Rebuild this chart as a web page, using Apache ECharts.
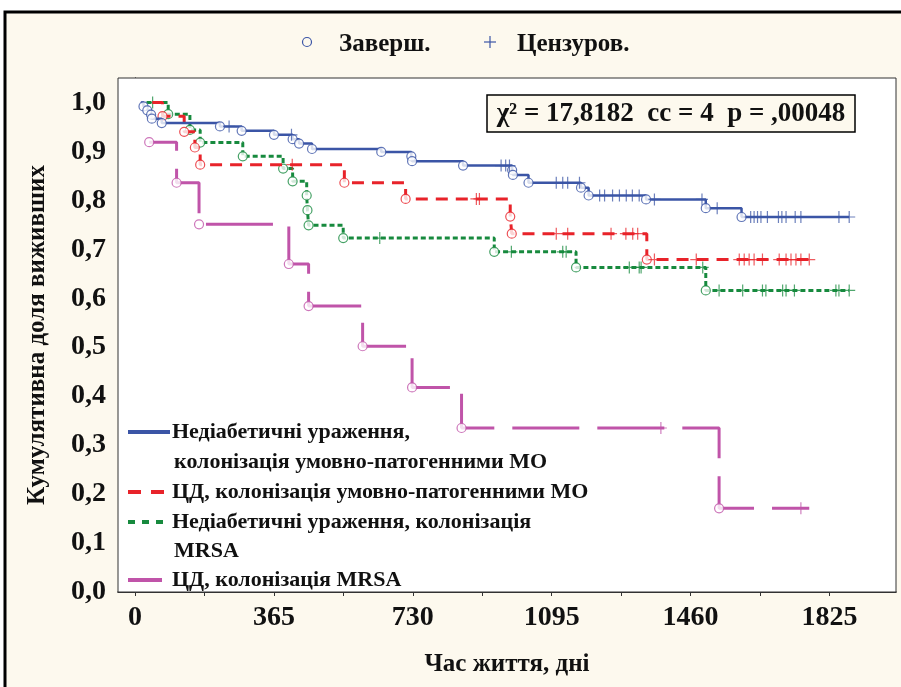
<!DOCTYPE html>
<html><head><meta charset="utf-8">
<script src="https://cdn.jsdelivr.net/npm/echarts@6/dist/echarts.min.js"></script>
<style>html,body{margin:0;padding:0;background:#fff}#c{width:901px;height:687px}</style>
</head><body><div id="c"></div>
<script>
// ---- tick labels ----
const xTicks = [0, 365, 730, 1095, 1460, 1825];
const xMinorTicks = [0, 182.5, 365, 547.5, 730, 912.5, 1095, 1277.5, 1460, 1642.5, 1825];
const yTicks = [0, 0.1, 0.2, 0.3, 0.4, 0.5, 0.6, 0.7, 0.8, 0.9, 1.0];

// ---- series names ----
const nameBlue1 = 'Недіабетичні ураження,';
const nameBlue2 = 'колонізація умовно-патогенними МО';
const nameRed = 'ЦД, колонізація умовно-патогенними МО';
const nameGreen1 = 'Недіабетичні ураження, колонізація';
const nameGreen2 = 'MRSA';
const nameMag = 'ЦД, колонізація MRSA';

// ---- Blue: non-diabetic, opportunistic ----
const blueStart = [15, 1.0];
const blueT = [22, 32, 42, 44, 70, 223, 280, 365, 414, 431, 465, 647, 726, 728, 862, 991, 993, 1034, 1172, 1192, 1343, 1500, 1594];
const blueS = [0.992, 0.984, 0.975, 0.967, 0.958, 0.951, 0.942, 0.934, 0.925, 0.916, 0.905, 0.899, 0.890, 0.880, 0.871, 0.862, 0.852, 0.836, 0.826, 0.810, 0.802, 0.784, 0.766];
const blueC = [247, 411, 962, 974, 984, 1107, 1124, 1137, 1168, 1221, 1234, 1255, 1273, 1291, 1307, 1325, 1365, 1490, 1530, 1618, 1627, 1636, 1645, 1662, 1691, 1700, 1711, 1735, 1750, 1850, 1877];
const blueEnd = 1877;

// ---- Red: diabetic, opportunistic ----
const redStart = [45, 1.0];
const redT = [72, 129, 157, 171, 550, 711, 986, 990, 1345];
const redS = [0.972, 0.940, 0.908, 0.873, 0.836, 0.803, 0.767, 0.732, 0.679];
const redC = [413, 897, 905, 1107, 1137, 1251, 1290, 1308, 1321, 1365, 1475, 1588, 1601, 1614, 1627, 1649, 1693, 1711, 1724, 1737, 1750, 1772];
const redEnd = 1772;

// ---- Green: non-diabetic, MRSA ----
const greenStart = [30, 1.0];
const greenT = [87, 144, 171, 283, 389, 414, 451, 453, 456, 547, 944, 1159, 1500];
const greenS = [0.976, 0.944, 0.918, 0.890, 0.865, 0.839, 0.810, 0.780, 0.749, 0.723, 0.695, 0.663, 0.616];
const greenC = [46, 643, 989, 1124, 1133, 1299, 1325, 1330, 1492, 1535, 1597, 1649, 1658, 1702, 1711, 1733, 1842, 1850, 1877];
const greenEnd = 1877;

// ---- Magenta: diabetic, MRSA ----
const magStart = [37, 0.919];
const magT = [37, 109, 168, 404, 456, 598, 728, 858, 1535];
const magS = [0.919, 0.836, 0.751, 0.670, 0.584, 0.502, 0.418, 0.335, 0.171];
const magC = [1382, 1750];
const magEnd = 1772;

// ---- colours ----
const cBlue = '#3b55a6', cRed = '#e8232a', cGreen = '#178a3e', cMag = '#c054a9';

function kmLine(start, T, S, end) {
  const pts = [start.slice()];
  for (let i = 0; i < T.length; i++) pts.push([T[i], S[i]]);
  pts.push([end, S[S.length - 1]]);
  return pts;
}
function levelAt(start, T, S, t) {
  let v = start[1];
  for (let i = 0; i < T.length; i++) if (T[i] <= t) v = S[i];
  return v;
}
const plusPath = 'path://M6 0L6 12M0 6L12 6';

function groupSeries(name, color, dash, dashOffset, width, start, T, S, C, end, z) {
  return [
    { name: name, type: 'line', step: 'end', data: kmLine(start, T, S, end), showSymbol: false, silent: true, z: z,
      lineStyle: { color: color, width: width, type: dash, dashOffset: dashOffset, cap: 'butt' }, animation: false },
    { type: 'scatter', data: T.map((t, i) => [t, S[i]]), symbol: 'circle', symbolSize: 9, z: z + 1, silent: true,
      itemStyle: { color: '#fff', borderColor: color, borderWidth: 1.2 }, animation: false },
    { type: 'scatter', data: C.map(t => [t, levelAt(start, T, S, t)]), symbol: plusPath, symbolSize: 12, z: z + 1, silent: true,
      itemStyle: { color: 'none', borderColor: color, borderWidth: 1.2, opacity: 0.75 }, animation: false }
  ];
}

const serif = '"Liberation Serif", "Times New Roman", serif';
const chart = echarts.init(document.getElementById('c'));

const legendRows = [
  { y: 432, color: cBlue, dash: null, x2: 170, text: nameBlue1 },
  { y: 462, color: null, text: nameBlue2 },
  { y: 492, color: cRed, dash: [13, 10], x2: 166, text: nameRed },
  { y: 522, color: cGreen, dash: [7, 7], x2: 165, text: nameGreen1 },
  { y: 551, color: null, text: nameGreen2 },
  { y: 580, color: cMag, dash: null, x2: 162, text: nameMag }
];
const legendGraphics = [];
legendRows.forEach(r => {
  if (r.color) legendGraphics.push({ type: 'line', silent: true, z: 50,
    shape: { x1: 128, y1: r.y, x2: r.x2, y2: r.y },
    style: { stroke: r.color, lineWidth: 4, lineDash: r.dash || null } });
  legendGraphics.push({ type: 'text', silent: true, z: 50, x: r.color ? 172 : 174, y: r.y,
    style: { text: r.text, font: 'bold 22px ' + serif, fill: '#111', verticalAlign: 'middle', align: 'left' } });
});

chart.setOption({
  backgroundColor: '#fff',
  animation: false,
  grid: { left: 118, top: 78, right: 5, bottom: 95, show: true, backgroundColor: '#fff', borderColor: '#333', borderWidth: 1, z: 1 },
  xAxis: [
    { type: 'value', min: -45, max: 2000, position: 'bottom',
      name: 'Час життя, дні', nameLocation: 'middle', nameGap: 60,
      nameTextStyle: { fontFamily: serif, fontWeight: 'bold', fontSize: 25, color: '#111' },
      axisLine: { show: true, lineStyle: { color: '#333', width: 1 } },
      axisTick: { show: false, customValues: xTicks },
      axisLabel: { customValues: xTicks, formatter: v => String(v), fontFamily: serif, fontWeight: 'bold', fontSize: 28, color: '#111', margin: 12 },
      splitLine: { show: true, lineStyle: { color: '#c8c8c8', type: [4, 3], width: 1 } } },
    { type: 'value', min: -45, max: 2000, position: 'top',
      axisLine: { show: true, lineStyle: { color: '#333', width: 1.5 } },
      axisTick: { show: true, inside: true, length: 4, customValues: xMinorTicks, lineStyle: { color: '#333' } },
      axisLabel: { show: false }, splitLine: { show: false } }
  ],
  yAxis: [
    { type: 'value', min: 0, max: 1.05, position: 'left',
      name: 'Кумулятивна доля виживших', nameLocation: 'middle', nameGap: 68, nameRotate: 90,
      nameTextStyle: { fontFamily: serif, fontWeight: 'bold', fontSize: 25, color: '#111' },
      axisLine: { show: true, lineStyle: { color: '#333', width: 1 } },
      axisTick: { show: true, length: 4, customValues: yTicks, lineStyle: { color: '#333' } },
      axisLabel: { customValues: yTicks, formatter: v => v.toFixed(1).replace('.', ','), fontFamily: serif, fontWeight: 'bold', fontSize: 28, color: '#111', margin: 12 },
      splitLine: { show: true, lineStyle: { color: '#c8c8c8', type: [4, 3], width: 1 } } },
    { type: 'value', min: 0, max: 1.05, position: 'right',
      axisLine: { show: true, lineStyle: { color: '#333', width: 1 } },
      axisTick: { show: true, length: 3, customValues: yTicks, lineStyle: { color: '#333' } },
      axisLabel: { show: false }, splitLine: { show: false } }
  ],
  series: [].concat(
    groupSeries(nameMag, cMag, [67, 18], 31, 3, magStart, magT, magS, magC, magEnd, 10),
    groupSeries(nameGreen1 + ' ' + nameGreen2, cGreen, [5, 3], 0, 3, greenStart, greenT, greenS, greenC, greenEnd, 12),
    groupSeries(nameRed, cRed, [12, 8], 0, 3, redStart, redT, redS, redC, redEnd, 14),
    groupSeries(nameBlue1 + ' ' + nameBlue2, cBlue, 'solid', 0, 2.5, blueStart, blueT, blueS, blueC, blueEnd, 16)
  ),
  graphic: [
    { type: 'rect', silent: true, z: -100, zlevel: 0,
      shape: { x: 5, y: 12, width: 920, height: 700 },
      style: { fill: '#fdf9ee', stroke: '#000', lineWidth: 3 } },
    // top legend
    { type: 'circle', silent: true, z: 50, shape: { cx: 307, cy: 42, r: 4.5 },
      style: { fill: 'none', stroke: cBlue, lineWidth: 1.2 } },
    { type: 'text', silent: true, z: 50, x: 339, y: 45,
      style: { text: 'Заверш.', font: 'bold 25px ' + serif, fill: '#111', verticalAlign: 'middle', align: 'left' } },
    { type: 'line', silent: true, z: 50, shape: { x1: 484, y1: 42, x2: 496, y2: 42 }, style: { stroke: cBlue, lineWidth: 1.2 } },
    { type: 'line', silent: true, z: 50, shape: { x1: 490, y1: 36, x2: 490, y2: 48 }, style: { stroke: cBlue, lineWidth: 1.2 } },
    { type: 'text', silent: true, z: 50, x: 517, y: 45,
      style: { text: 'Цензуров.', font: 'bold 25px ' + serif, fill: '#111', verticalAlign: 'middle', align: 'left' } },
    // chi-square box
    { type: 'rect', silent: true, z: 40, shape: { x: 487, y: 95, width: 368, height: 37 },
      style: { fill: '#fdf9ee', stroke: '#000', lineWidth: 1.5 } },
    { type: 'text', silent: true, z: 41, x: 671, y: 114,
      style: { text: 'χ² = 17,8182  cc = 4  p = ,00048', font: 'bold 27px ' + serif, fill: '#111', verticalAlign: 'middle', align: 'center' } }
  ].concat(legendGraphics)
});
</script></body></html>
